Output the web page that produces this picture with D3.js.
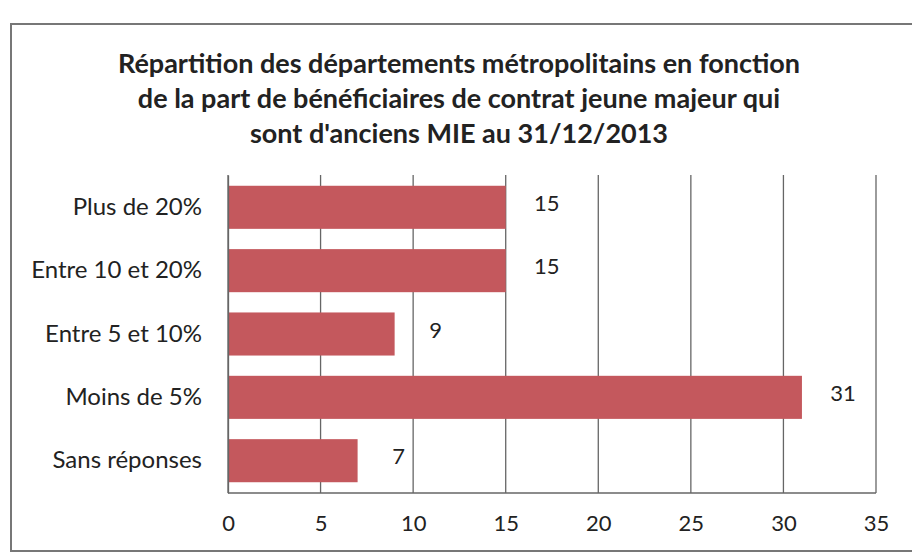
<!DOCTYPE html>
<html>
<head>
<meta charset="utf-8">
<script src="https://cdn.jsdelivr.net/npm/d3@7"></script>
<style>
  body { margin: 0; background: #fff; }
  svg { display: block; }
</style>
</head>
<body>
<svg id="chart" width="912" height="558"></svg>
<script>
// data
const categories = ["Plus de 20%", "Entre 10 et 20%", "Entre 5 et 10%", "Moins de 5%", "Sans réponses"];
const values = [15, 15, 9, 31, 7];
const xTicks = [0, 5, 10, 15, 20, 25, 30, 35];
const titleLines = [
    "Répartition des départements métropolitains en fonction",
    "de la part de bénéficiaires de contrat jeune majeur qui",
    "sont d'anciens MIE au 31/12/2013"
];

const svg = d3.select("#chart");
const font = "Lato, 'Open Sans', sans-serif";

// outer frame of the chart
svg.append("rect")
    .attr("x", 11).attr("y", 24)
    .attr("width", 920).attr("height", 527)
    .style("fill", "none")
    .style("stroke", "#777")
    .style("stroke-width", 2);

// title
svg.append("g").selectAll("text")
    .data(titleLines)
    .join("text")
    .attr("x", 459)
    .attr("y", (d, i) => 73 + i * 35)
    .attr("text-anchor", "middle")
    .style("font-family", font)
    .style("font-weight", "bold")
    .style("font-size", "27px")
    .style("fill", "#222")
    .text(d => d);

const margin = {left: 228, right: 876, top: 175, bottom: 493};

let x = d3.scaleLinear()
    .domain([0, 35])
    .range([margin.left, margin.right]);

let y = d3.scaleBand()
    .domain(categories)
    .range([margin.top, margin.bottom])
    .paddingInner(0.32)
    .paddingOuter(0.17);

// vertical gridlines
svg.append("g").selectAll("line")
    .data(xTicks)
    .join("line")
    .attr("x1", d => x(d)).attr("x2", d => x(d))
    .attr("y1", margin.top).attr("y2", margin.bottom)
    .style("stroke", "#666")
    .style("stroke-width", 1.3);

// bottom line of plot area
svg.append("line")
    .attr("x1", margin.left).attr("x2", margin.right)
    .attr("y1", margin.bottom).attr("y2", margin.bottom)
    .style("stroke", "#666")
    .style("stroke-width", 1.3);

// bars
svg.append("g").selectAll("rect")
    .data(values)
    .join("rect")
    .attr("x", x(0))
    .attr("y", (d, i) => y(categories[i]))
    .attr("width", d => x(d) - x(0))
    .attr("height", y.bandwidth())
    .style("fill", "#c4585d");

// value labels
svg.append("g").selectAll("text")
    .data(values)
    .join("text")
    .attr("x", d => x(d) + 41)
    .attr("y", (d, i) => y(categories[i]) + y.bandwidth() / 2 - 2)
    .attr("text-anchor", "middle")
    .attr("dominant-baseline", "middle")
    .style("font-family", font)
    .style("font-size", "22px")
    .style("fill", "#222")
    .text(d => d);

// category axis
let yAxis = d3.axisLeft(y).tickSize(0).tickPadding(26);
let gy = svg.append("g")
    .attr("transform", `translate(${margin.left},0)`)
    .call(yAxis);
gy.select(".domain")
    .style("stroke", "#666")
    .style("stroke-width", 1.3);
gy.selectAll("text")
    .style("font-family", font)
    .style("font-size", "24px")
    .style("fill", "#222");

// value axis
let xAxis = d3.axisBottom(x).tickValues(xTicks).tickSize(0).tickPadding(22);
let gx = svg.append("g")
    .attr("transform", `translate(0,${margin.bottom})`)
    .call(xAxis);
gx.select(".domain").remove();
gx.selectAll("text")
    .style("font-family", font)
    .style("font-size", "22px")
    .style("fill", "#222");
</script>
</body>
</html>
